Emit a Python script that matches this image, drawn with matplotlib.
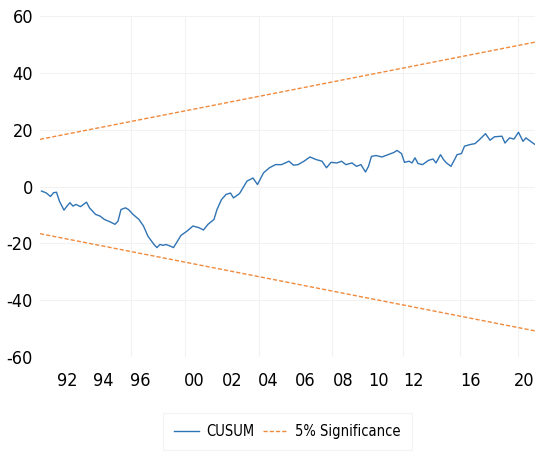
"""
CUSUM stability test with 5% significance bounds.
"""

import matplotlib.pyplot as plt
from matplotlib import font_manager

cusum_obs = [1, 4, 7, 9, 11, 13, 16, 18, 20, 22,
             24, 27, 31, 33, 37, 40, 43, 47, 50, 52,
             54, 57, 59, 62, 66, 69, 72, 76, 78, 80,
             82, 84, 87, 89, 91, 94, 98, 102, 106, 109,
             112, 116, 118, 121, 124, 127, 129, 133, 138, 142,
             145, 149, 153, 157, 161, 166, 169, 172, 176, 180,
             184, 188, 191, 194, 198, 201, 204, 208, 211, 214,
             217, 219, 221, 224, 228, 232, 236, 238, 241, 243,
             246, 248, 250, 252, 255, 259, 262, 264, 267, 269,
             271, 274, 277, 278, 281, 283, 287, 290, 293, 297,
             300, 303, 308, 310, 313, 316, 319, 322, 324, 327,
             330]
cusum_val = [-1.6, -2.2, -3.5, -2.2, -2.0, -5.2, -8.3, -6.9, -5.7, -6.9,
             -6.3, -7.1, -5.5, -7.5, -9.8, -10.4, -11.6, -12.5, -13.3, -12.2,
             -8.1, -7.5, -8.1, -9.8, -11.6, -13.9, -17.5, -20.4, -21.5, -20.4,
             -20.7, -20.4, -21.0, -21.5, -19.8, -17.2, -15.7, -13.9, -14.5, -15.3,
             -13.3, -11.6, -8.1, -4.6, -2.8, -2.3, -4.0, -2.5, 1.9, 3.0,
             0.7, 4.8, 6.6, 7.7, 7.7, 8.9, 7.5, 7.7, 8.9, 10.4,
             9.5, 8.9, 6.6, 8.5, 8.3, 8.9, 7.7, 8.3, 7.1, 7.7,
             5.1, 7.1, 10.6, 10.9, 10.4, 11.2, 12.0, 12.7, 11.6, 8.5,
             8.9, 8.3, 10.1, 8.1, 7.7, 9.2, 9.7, 8.3, 11.2, 9.5,
             8.3, 7.1, 10.1, 11.2, 11.6, 14.2, 14.8, 15.1, 16.5, 18.6,
             16.3, 17.5, 17.7, 15.3, 17.1, 16.7, 19.1, 15.9, 17.1, 15.9,
             14.8]

# 5% significance bounds (straight lines from first to last observation)
bound_obs = [0, 330]
upper_bound = [16.6, 50.8]
lower_bound = [-16.6, -50.8]

tick_pos = [18, 42, 67, 103, 128, 152, 177, 202, 226, 249, 287, 323]
tick_labels = ["92", "94", "96", "00", "02", "04", "06", "08", "10", "12",
               "16", "20"]
grid_pos = [61, 97, 146, 195, 242, 280, 319]
y_ticks = [-60, -40, -20, 0, 20, 40, 60]

# use a condensed face if one is installed, otherwise Lato
condensed = [f.name for f in font_manager.fontManager.ttflist
             if "ondensed" in f.fname or "Narrow" in f.fname]
plt.rcParams["font.family"] = (condensed[:1] or ["Lato"]) + ["DejaVu Sans"]
plt.rcParams["font.stretch"] = "condensed"
plt.rcParams["axes.unicode_minus"] = False

fig = plt.figure(figsize=(5.5, 4.59), dpi=100)
ax = fig.add_axes([0.0727, 0.2222, 0.9, 0.7429])

ax.plot(cusum_obs, cusum_val, color="#2f73b4", linewidth=1.0, label="CUSUM")
ax.plot(bound_obs, upper_bound, color="#f08a3c", linewidth=1.0,
        linestyle=(0, (3, 1.5)), label="5% Significance")
ax.plot(bound_obs, lower_bound, color="#f08a3c", linewidth=1.0,
        linestyle=(0, (3, 1.5)))

ax.set_xlim(0, 330)
ax.set_ylim(-60, 60)
ax.set_xticks(tick_pos)
ax.set_xticklabels(tick_labels)
ax.set_xticks(grid_pos, minor=True)
ax.set_yticks(y_ticks)
ax.tick_params(axis="both", which="both", length=0, labelsize=13)
ax.tick_params(axis="x", pad=11)
ax.tick_params(axis="y", pad=5)

ax.grid(False)
ax.grid(True, axis="y", which="major", color="#f2f2f2", linewidth=0.8)
ax.grid(True, axis="x", which="minor", color="#f2f2f2", linewidth=0.8)
for spine in ax.spines.values():
    spine.set_visible(False)

leg = fig.legend(loc="center", bbox_to_anchor=(0.523, 0.059), ncol=2,
                 fontsize=10.5, frameon=True, fancybox=False,
                 handlelength=1.7, columnspacing=0.6, handletextpad=0.5,
                 borderpad=0.75)
leg.get_frame().set_edgecolor("#f0f0f0")
leg.get_frame().set_linewidth(0.8)

fig.savefig("out.png", dpi=100)
